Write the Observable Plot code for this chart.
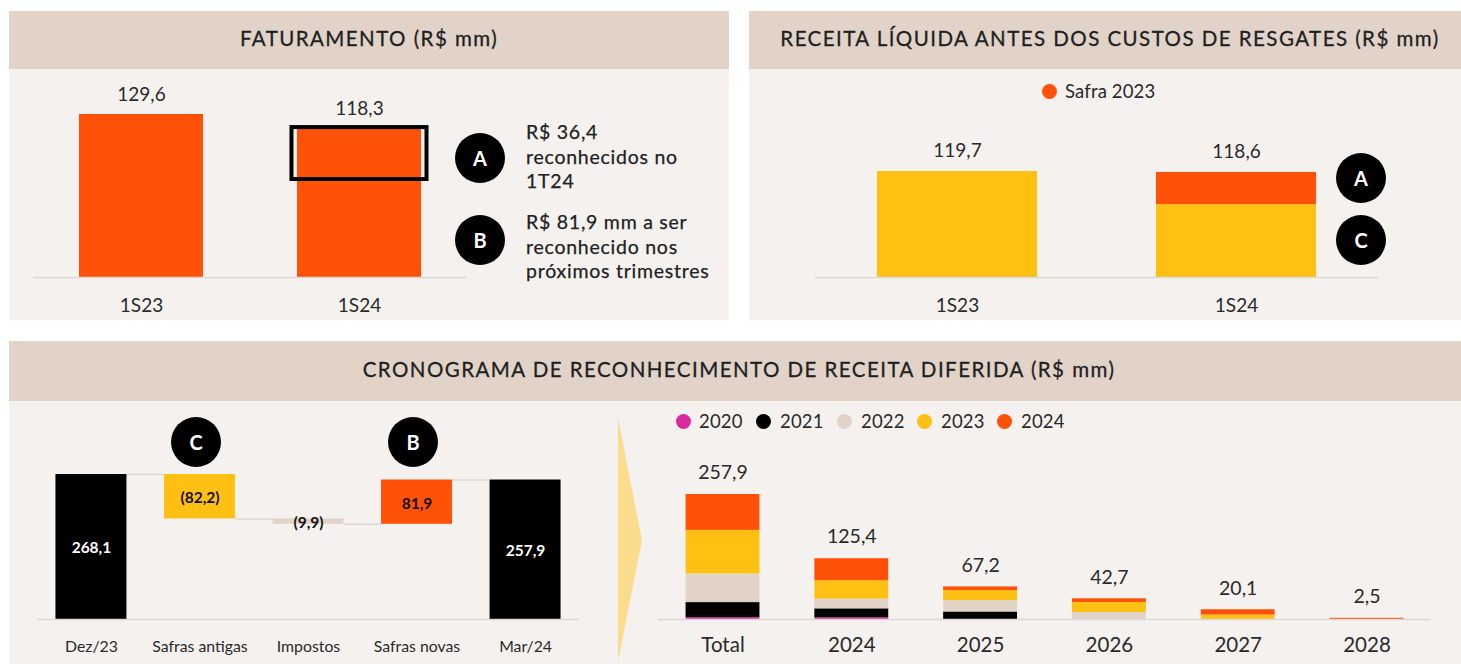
<!DOCTYPE html>
<html lang="pt-BR">
<head>
<meta charset="utf-8">
<title>Receita diferida</title>
<script src="https://cdn.jsdelivr.net/npm/d3@7"></script>
<script src="https://cdn.jsdelivr.net/npm/@observablehq/plot@0.6"></script>
<style>
  html, body { margin: 0; padding: 0; background: #fff; }
  #page { position: relative; width: 1461px; height: 664px; overflow: hidden; font-family: Lato, sans-serif; color: #262626; }
  .abs { position: absolute; }
  .panel { background: #f5f1ee; }
  .head { background: #e2d3c9; display: flex; align-items: center; justify-content: center; font-size: 20.5px; letter-spacing: 1.45px; -webkit-text-stroke: 0.3px #1f1f1f; white-space: nowrap; color: #1f1f1f; padding-bottom: 5px; box-sizing: border-box; }
  .badge { background: #000; color: #fff; border-radius: 50%; width: 50px; height: 50px; display: flex; align-items: center; justify-content: center; font-size: 20px; font-weight: 700; }
  .note { font-size: 19.5px; line-height: 24.6px; letter-spacing: 0.75px; -webkit-text-stroke: 0.25px #222; color: #222; white-space: nowrap; }
  .dot { border-radius: 50%; width: 15px; height: 15px; }
  .leg { font-size: 18.5px; line-height: 20px; letter-spacing: 0.15px; white-space: nowrap; color: #2a2a2a; }
  svg { overflow: visible; }
</style>
</head>
<body>
<div id="page"></div>
<script>
// ---- data ----
const faturamentoPeriods = ["1S23", "1S24"];
const faturamentoValues = [129.6, 118.3];
const destaqueTopo = 119.2;
const destaqueBase = 77.9;

const receitaPeriods = ["1S23", "1S24"];
const receitaTotals = [119.7, 118.6];
const receitaSafraAntiga = [119.7, 82.2];
const receitaSafra2023 = [0, 36.4];

const wfCategories = ["Dez/23", "Safras antigas", "Impostos", "Safras novas", "Mar/24"];
const wfDeltas = [268.1, -82.2, -9.9, 81.9, 257.9];
const wfKinds = ["total", "antigas", "impostos", "novas", "total"];

const cronoPeriods = ["Total", "2024", "2025", "2026", "2027", "2028"];
const cronoTotals = [257.9, 125.4, 67.2, 42.7, 20.1, 2.5];
const safras = ["2020", "2021", "2022", "2023", "2024"];
const safra2020 = [3.9, 3.6, 0, 0, 0, 0];
const safra2021 = [31, 18.4, 15.5, 0, 0, 0];
const safra2022 = [59, 20, 23.4, 14.4, 0, 0];
const safra2023 = [90, 37.9, 20.7, 20.7, 9.1, 0];
const safra2024 = [74, 45.5, 7.6, 7.6, 11, 2.5];

// ---- style ----
const ORANGE = "#ff5108", YELLOW = "#ffc014", BEIGE = "#e2d3c9", MAGENTA = "#d92ba0", BLACK = "#000", AXIS = "#dbd8d5", INK = "#2a2a2a";
const br = v => v.toFixed(1).replace(".", ",");

// ---- layout helpers ----
const page = document.getElementById("page");
function box(cls, l, t, w, h, text) {
  const d = document.createElement("div");
  d.className = "abs " + cls;
  d.style.left = l + "px"; d.style.top = t + "px";
  if (w != null) d.style.width = w + "px";
  if (h != null) d.style.height = h + "px";
  if (text != null) d.textContent = text;
  page.appendChild(d);
  return d;
}
const badge = (cx, cy, t) => box("badge", cx - 25, cy - 25, null, null, t);
const note = (l, t, lines) => { const d = box("note", l, t); d.innerHTML = lines.join("<br>"); };
function legendItem(cx, cy, color, label, tx) {
  box("dot", cx - 7.5, cy - 7.5).style.background = color;
  box("leg", tx, cy - 10, null, null, label);
}
function mount(l, t, svg) {
  const d = box("", l, t);
  d.appendChild(svg);
  svg.style.display = "block";
}
const base = { style: { background: "transparent", fontFamily: "Lato, sans-serif", color: INK } };

// ---- panels ----
box("panel", 9, 11, 720, 309);
box("panel", 749, 11, 712, 309);
box("panel", 9, 341, 1452, 323);
box("head", 9, 11, 720, 58, "FATURAMENTO (R$ mm)");
box("head", 749, 11, 712, 58, "RECEITA LÍQUIDA ANTES DOS CUSTOS DE RESGATES (R$ mm)").style.paddingLeft = "10px";
box("head", 9, 341, 1452, 60, "CRONOGRAMA DE RECONHECIMENTO DE RECEITA DIFERIDA (R$ mm)").style.paddingLeft = "8px";

// ---- Faturamento ----
const fatRows = faturamentoPeriods.map((p, i) => ({ p, v: faturamentoValues[i] }));
mount(9, 69, Plot.plot({
  ...base, width: 720, height: 251, marginLeft: 24, marginRight: 262, marginTop: 45, marginBottom: 43,
  x: { domain: faturamentoPeriods, paddingInner: 0.431, paddingOuter: 0.211, round: false, axis: null },
  y: { domain: [0, 129.6], axis: null },
  marks: [
    Plot.barY(fatRows, { x: "p", y: "v", fill: ORANGE }),
    Plot.barY([{ p: "1S24" }], { x: "p", y1: destaqueBase, y2: destaqueTopo, fill: "none", stroke: BLACK, strokeWidth: 4, insetLeft: -5.5, insetRight: -5.5 }),
    Plot.ruleY([0], { stroke: AXIS, strokeWidth: 1.5 }),
    Plot.text(fatRows, { x: "p", y: "v", text: d => br(d.v), dy: -20, fontSize: 19, fill: INK }),
    Plot.axisX({ tickSize: 0, tickPadding: 21, fontSize: 19, label: null, anchor: "bottom", fill: INK })
  ]
}));
badge(480, 158, "A");
badge(480, 240, "B");
note(526, 120, ["R$ 36,4", "reconhecidos no", "1T24"]);
note(526, 210, ["R$ 81,9 mm a ser", "reconhecido nos", "próximos trimestres"]);

// ---- Receita líquida ----
const recStack = receitaPeriods.flatMap((p, i) => [
  { p, s: "antiga", v: receitaSafraAntiga[i] },
  { p, s: "2023", v: receitaSafra2023[i] }
]);
const recTotals = receitaPeriods.map((p, i) => ({ p, v: receitaTotals[i] }));
mount(749, 69, Plot.plot({
  ...base, width: 712, height: 251, marginLeft: 66, marginRight: 83, marginTop: 102, marginBottom: 43,
  x: { domain: receitaPeriods, paddingInner: 0.4265, paddingOuter: 0.222, round: false, axis: null },
  y: { domain: [0, 119.7], axis: null },
  color: { domain: ["antiga", "2023"], range: [YELLOW, ORANGE] },
  marks: [
    Plot.barY(recStack, { x: "p", y: "v", fill: "s" }),
    Plot.ruleY([0], { stroke: AXIS, strokeWidth: 1.5 }),
    Plot.text(recTotals, { x: "p", y: "v", text: d => br(d.v), dy: -20.5, fontSize: 19, fill: INK }),
    Plot.axisX({ tickSize: 0, tickPadding: 21, fontSize: 19, label: null, anchor: "bottom", fill: INK })
  ]
}));
legendItem(1049, 91, ORANGE, "Safra 2023", 1065);
badge(1361, 178, "A");
badge(1361, 240, "C");

// ---- Waterfall ----
let running = 0;
const wfRows = wfCategories.map((c, i) => {
  const kind = wfKinds[i], d = wfDeltas[i];
  const y1 = kind === "total" ? 0 : running;
  const y2 = kind === "total" ? d : running + d;
  running = y2;
  return { c, kind, y1, y2, delta: d };
});
const wfLinks = wfRows.slice(0, -1).map(r => ({ c: r.c, level: r.y2 }));
const wfBand = 71, wfGap = 37.6;
const wfLabel = d => d.delta < 0 ? `(${br(-d.delta)})` : br(d.delta);
mount(9, 401, Plot.plot({
  ...base, width: 600, height: 263, marginLeft: 28, marginRight: 30, marginTop: 73, marginBottom: 45,
  x: { domain: wfCategories, paddingInner: 0.346, paddingOuter: 0.17, round: false, axis: null },
  y: { domain: [0, 268.1], axis: null },
  color: { domain: ["total", "antigas", "impostos", "novas"], range: [BLACK, YELLOW, BEIGE, ORANGE] },
  marks: [
    Plot.tickY(wfLinks, { x: "c", y: "level", stroke: AXIS, strokeWidth: 1.5, insetLeft: wfBand, insetRight: -wfGap }),
    Plot.barY(wfRows, { x: "c", y1: "y1", y2: "y2", fill: "kind" }),
    Plot.ruleY([0], { stroke: AXIS, strokeWidth: 1.5 }),
    Plot.text(wfRows, {
      x: "c", y: d => (d.y1 + d.y2) / 2, text: wfLabel, fontSize: 15.5, fontWeight: 700,
      dy: 1.5, fill: d => d.kind === "total" ? "#fff" : "#111"
    }),
    Plot.axisX({ tickSize: 0, tickPadding: 21, fontSize: 15.8, label: null, anchor: "bottom", fill: INK })
  ]
}));
badge(196, 442, "C");
badge(413, 442, "B");

// ---- Arrow ----
const arrow = box("", 618, 418, 24, 243);
arrow.style.background = "#fadc8c";
arrow.style.clipPath = "polygon(0 0, 100% 50.5%, 0 100%)";

// ---- Cronograma ----
const safraSeries = [safra2020, safra2021, safra2022, safra2023, safra2024];
const cronoRows = safras.flatMap((s, si) => cronoPeriods.map((p, i) => ({ p, s, v: safraSeries[si][i] })));
const cronoTop = cronoPeriods.map((p, i) => ({ p, v: cronoTotals[i] }));
const safraColors = [MAGENTA, BLACK, BEIGE, YELLOW, ORANGE];
mount(650, 401, Plot.plot({
  ...base, width: 811, height: 263, marginLeft: 8, marginRight: 30, marginTop: 93, marginBottom: 45,
  x: { domain: cronoPeriods, paddingInner: 0.4264, paddingOuter: 0.214, round: false, axis: null },
  y: { domain: [0, 257.9], axis: null },
  color: { domain: safras, range: safraColors },
  marks: [
    Plot.barY(cronoRows, { x: "p", y: "v", fill: "s" }),
    Plot.ruleY([0], { stroke: AXIS, strokeWidth: 1.5 }),
    Plot.text(cronoTop, { x: "p", y: "v", text: d => br(d.v), dy: -21.5, fontSize: 19.5, fill: INK }),
    Plot.axisX({ tickSize: 0, tickPadding: 18, fontSize: 20.5, label: null, anchor: "bottom", fill: INK })
  ]
}));
const legX = [683, 763, 844, 924, 1004];
const legT = [699, 780, 861, 941, 1021];
safras.forEach((s, i) => legendItem(legX[i], 421, safraColors[i], s, legT[i]));
</script>
</body>
</html>
